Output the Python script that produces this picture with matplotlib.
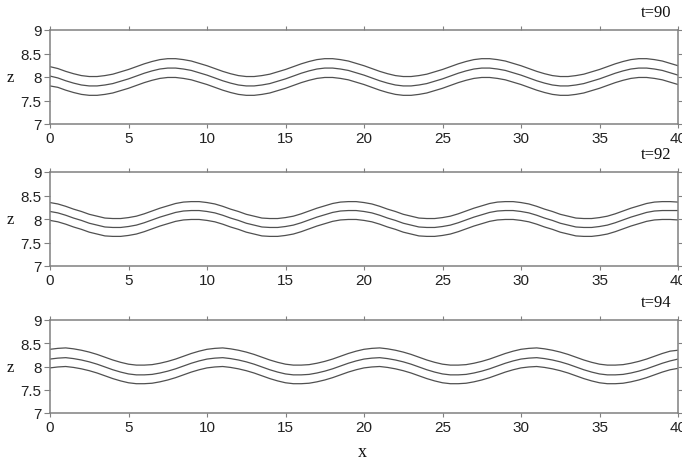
import matplotlib
matplotlib.use("Agg")
import matplotlib.pyplot as plt

x = [i * 0.5 for i in range(81)]

# t=90
p1_top = [8.22, 8.18, 8.12, 8.07, 8.03, 8.01, 8.01, 8.03, 8.06, 8.11, 8.16, 8.22, 8.28, 8.33, 8.37, 8.39, 8.39, 8.37, 8.34, 8.29,
          8.24, 8.18, 8.12, 8.07, 8.03, 8.01, 8.01, 8.03, 8.06, 8.11, 8.16, 8.22, 8.28, 8.33, 8.37, 8.39, 8.39, 8.37, 8.34, 8.29,
          8.24, 8.18, 8.12, 8.07, 8.03, 8.01, 8.01, 8.03, 8.06, 8.11, 8.16, 8.22, 8.28, 8.33, 8.37, 8.39, 8.39, 8.37, 8.34, 8.29,
          8.24, 8.18, 8.12, 8.07, 8.03, 8.01, 8.01, 8.03, 8.06, 8.11, 8.16, 8.22, 8.28, 8.33, 8.37, 8.39, 8.39, 8.37, 8.34, 8.29,
          8.24]
p1_mid = [8.02, 7.98, 7.92, 7.87, 7.83, 7.81, 7.81, 7.83, 7.86, 7.91, 7.96, 8.02, 8.08, 8.13, 8.17, 8.19, 8.19, 8.17, 8.14, 8.09,
          8.04, 7.98, 7.92, 7.87, 7.83, 7.81, 7.81, 7.83, 7.86, 7.91, 7.96, 8.02, 8.08, 8.13, 8.17, 8.19, 8.19, 8.17, 8.14, 8.09,
          8.04, 7.98, 7.92, 7.87, 7.83, 7.81, 7.81, 7.83, 7.86, 7.91, 7.96, 8.02, 8.08, 8.13, 8.17, 8.19, 8.19, 8.17, 8.14, 8.09,
          8.04, 7.98, 7.92, 7.87, 7.83, 7.81, 7.81, 7.83, 7.86, 7.91, 7.96, 8.02, 8.08, 8.13, 8.17, 8.19, 8.19, 8.17, 8.14, 8.09,
          8.04]
p1_bot = [7.81, 7.78, 7.72, 7.67, 7.63, 7.61, 7.61, 7.63, 7.66, 7.71, 7.76, 7.82, 7.88, 7.93, 7.97, 7.99, 7.99, 7.97, 7.94, 7.89,
          7.84, 7.78, 7.72, 7.67, 7.63, 7.61, 7.61, 7.63, 7.66, 7.71, 7.76, 7.82, 7.88, 7.93, 7.97, 7.99, 7.99, 7.97, 7.94, 7.89,
          7.84, 7.78, 7.72, 7.67, 7.63, 7.61, 7.61, 7.63, 7.66, 7.71, 7.76, 7.82, 7.88, 7.93, 7.97, 7.99, 7.99, 7.97, 7.94, 7.89,
          7.84, 7.78, 7.72, 7.67, 7.63, 7.61, 7.61, 7.63, 7.66, 7.71, 7.76, 7.82, 7.88, 7.93, 7.97, 7.99, 7.99, 7.97, 7.94, 7.89,
          7.84]

# t=92
p2_top = [8.35, 8.32, 8.27, 8.21, 8.16, 8.10, 8.06, 8.02, 8.01, 8.01, 8.03, 8.06, 8.11, 8.17, 8.23, 8.28, 8.33, 8.36, 8.37, 8.37,
          8.35, 8.32, 8.27, 8.21, 8.16, 8.10, 8.06, 8.02, 8.01, 8.01, 8.03, 8.06, 8.11, 8.17, 8.23, 8.28, 8.33, 8.36, 8.37, 8.37,
          8.35, 8.32, 8.27, 8.21, 8.16, 8.10, 8.06, 8.02, 8.01, 8.01, 8.03, 8.06, 8.11, 8.17, 8.23, 8.28, 8.33, 8.36, 8.37, 8.37,
          8.35, 8.32, 8.27, 8.21, 8.16, 8.10, 8.06, 8.02, 8.01, 8.01, 8.03, 8.06, 8.11, 8.17, 8.23, 8.28, 8.33, 8.36, 8.37, 8.37,
          8.36]
p2_mid = [8.16, 8.13, 8.08, 8.02, 7.97, 7.91, 7.87, 7.83, 7.82, 7.82, 7.84, 7.87, 7.92, 7.98, 8.04, 8.09, 8.14, 8.17, 8.18, 8.18,
          8.16, 8.13, 8.08, 8.02, 7.97, 7.91, 7.87, 7.83, 7.82, 7.82, 7.84, 7.87, 7.92, 7.98, 8.04, 8.09, 8.14, 8.17, 8.18, 8.18,
          8.16, 8.13, 8.08, 8.02, 7.97, 7.91, 7.87, 7.83, 7.82, 7.82, 7.84, 7.87, 7.92, 7.98, 8.04, 8.09, 8.14, 8.17, 8.18, 8.18,
          8.16, 8.13, 8.08, 8.02, 7.97, 7.91, 7.87, 7.83, 7.82, 7.82, 7.84, 7.87, 7.92, 7.98, 8.04, 8.09, 8.14, 8.17, 8.18, 8.18,
          8.18]
p2_bot = [7.97, 7.94, 7.89, 7.83, 7.78, 7.72, 7.68, 7.64, 7.63, 7.63, 7.65, 7.68, 7.73, 7.79, 7.85, 7.90, 7.95, 7.98, 7.99, 7.99,
          7.97, 7.94, 7.89, 7.83, 7.78, 7.72, 7.68, 7.64, 7.63, 7.63, 7.65, 7.68, 7.73, 7.79, 7.85, 7.90, 7.95, 7.98, 7.99, 7.99,
          7.97, 7.94, 7.89, 7.83, 7.78, 7.72, 7.68, 7.64, 7.63, 7.63, 7.65, 7.68, 7.73, 7.79, 7.85, 7.90, 7.95, 7.98, 7.99, 7.99,
          7.97, 7.94, 7.89, 7.83, 7.78, 7.72, 7.68, 7.64, 7.63, 7.63, 7.65, 7.68, 7.73, 7.79, 7.85, 7.90, 7.95, 7.98, 7.99, 7.99,
          7.98]

# t=94
p3_top = [8.37, 8.39, 8.40, 8.38, 8.35, 8.31, 8.26, 8.20, 8.14, 8.09, 8.05, 8.03, 8.03, 8.04, 8.07, 8.11, 8.16, 8.22, 8.28, 8.33,
          8.37, 8.39, 8.40, 8.38, 8.35, 8.31, 8.26, 8.20, 8.14, 8.09, 8.05, 8.03, 8.03, 8.04, 8.07, 8.11, 8.16, 8.22, 8.28, 8.33,
          8.37, 8.39, 8.40, 8.38, 8.35, 8.31, 8.26, 8.20, 8.14, 8.09, 8.05, 8.03, 8.03, 8.04, 8.07, 8.11, 8.16, 8.22, 8.28, 8.33,
          8.37, 8.39, 8.40, 8.38, 8.35, 8.31, 8.26, 8.20, 8.14, 8.09, 8.05, 8.03, 8.03, 8.04, 8.07, 8.11, 8.16, 8.22, 8.28, 8.33,
          8.35]
p3_mid = [8.16, 8.18, 8.19, 8.17, 8.14, 8.10, 8.05, 7.99, 7.93, 7.88, 7.84, 7.82, 7.82, 7.83, 7.86, 7.90, 7.95, 8.01, 8.07, 8.12,
          8.16, 8.18, 8.19, 8.17, 8.14, 8.10, 8.05, 7.99, 7.93, 7.88, 7.84, 7.82, 7.82, 7.83, 7.86, 7.90, 7.95, 8.01, 8.07, 8.12,
          8.16, 8.18, 8.19, 8.17, 8.14, 8.10, 8.05, 7.99, 7.93, 7.88, 7.84, 7.82, 7.82, 7.83, 7.86, 7.90, 7.95, 8.01, 8.07, 8.12,
          8.16, 8.18, 8.19, 8.17, 8.14, 8.10, 8.05, 7.99, 7.93, 7.88, 7.84, 7.82, 7.82, 7.83, 7.86, 7.90, 7.95, 8.01, 8.07, 8.12,
          8.16]
p3_bot = [7.97, 7.99, 8.00, 7.98, 7.95, 7.91, 7.86, 7.80, 7.74, 7.69, 7.65, 7.63, 7.63, 7.64, 7.67, 7.71, 7.76, 7.82, 7.88, 7.93,
          7.97, 7.99, 8.00, 7.98, 7.95, 7.91, 7.86, 7.80, 7.74, 7.69, 7.65, 7.63, 7.63, 7.64, 7.67, 7.71, 7.76, 7.82, 7.88, 7.93,
          7.97, 7.99, 8.00, 7.98, 7.95, 7.91, 7.86, 7.80, 7.74, 7.69, 7.65, 7.63, 7.63, 7.64, 7.67, 7.71, 7.76, 7.82, 7.88, 7.93,
          7.97, 7.99, 8.00, 7.98, 7.95, 7.91, 7.86, 7.80, 7.74, 7.69, 7.65, 7.63, 7.63, 7.64, 7.67, 7.71, 7.76, 7.82, 7.88, 7.93,
          7.96]

panels = [
    ("t=90", [p1_top, p1_mid, p1_bot]),
    ("t=92", [p2_top, p2_mid, p2_bot]),
    ("t=94", [p3_top, p3_mid, p3_bot]),
]
x_ticks = [0, 5, 10, 15, 20, 25, 30, 35, 40]
x_tick_labels = ["0", "5", "10", "15", "20", "25", "30", "35", "40"]
y_ticks = [7, 7.5, 8, 8.5, 9]
y_tick_labels = ["7", "7.5", "8", "8.5", "9"]

W, H = 682, 464
fig = plt.figure(figsize=(W / 100, H / 100), dpi=100)

tick_family = ["Liberation Sans Narrow", "Liberation Sans", "DejaVu Sans"]
serif = ["Liberation Serif", "DejaVu Serif"]

# top and bottom pixel rows of each panel
rows = [(31, 125), (173, 267), (321, 414)]
left_px, right_px = 50, 678
spine_col = "#808080"

for (label, lines), (top, bot) in zip(panels, rows):
    ax = fig.add_axes([left_px / W, 1 - bot / H, (right_px - left_px) / W, (bot - top) / H])
    for z in lines:
        ax.plot(x, z, color="#505050", lw=0.9)
    ax.set_xlim(0, 40)
    ax.set_ylim(7, 9)
    ax.set_xticks(x_ticks)
    ax.set_xticklabels(x_tick_labels)
    ax.set_yticks(y_ticks)
    ax.set_yticklabels(y_tick_labels)
    for s in ax.spines.values():
        s.set_color(spine_col)
        s.set_linewidth(1.1)
    ax.tick_params(axis="x", direction="out", length=3, width=0.8, color=spine_col,
                   top=True, pad=2)
    ax.tick_params(axis="y", direction="out", length=4, width=0.8, color=spine_col,
                   right=True, pad=2)
    for t in ax.get_xticklabels() + ax.get_yticklabels():
        t.set_fontfamily(tick_family)
        t.set_fontsize(11)
        t.set_color("#222222")
    ax.text(0.99, 1.19, label, transform=ax.transAxes, ha="right", va="center",
            fontsize=12, family=serif, color="#111111")
    ax.text(-0.063, 0.5, "z", transform=ax.transAxes, ha="center", va="center",
            fontsize=12, family=serif, color="#111111")

fig.text(362 / W, 1 - 453 / H, "x", ha="center", va="center", fontsize=13,
         family=serif, color="#111111")

fig.savefig("out.png", dpi=100)
